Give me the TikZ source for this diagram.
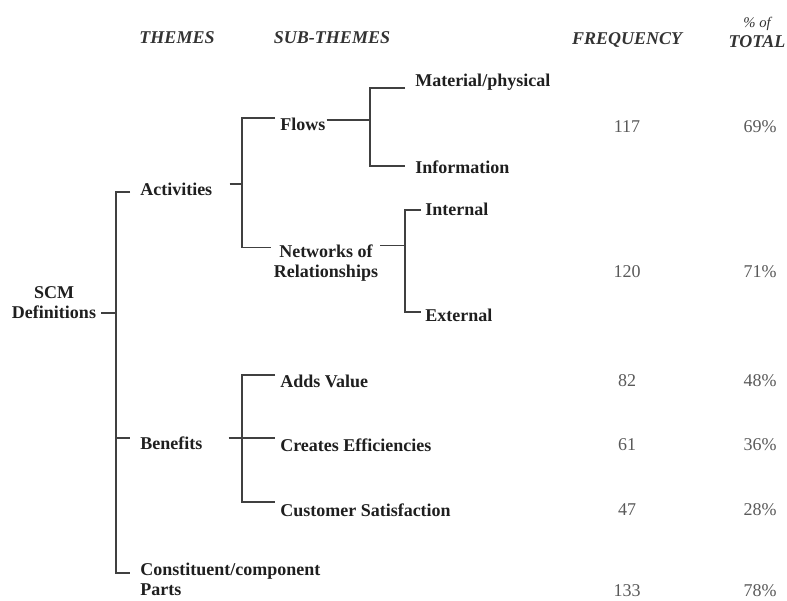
\documentclass[tikz,border=0pt]{standalone}
\usepackage{fontspec}
\setmainfont{Liberation Serif}
\usepackage{tikz}
\usetikzlibrary{positioning,calc}
\newcommand{\figsize}{\fontsize{13.5}{15}\selectfont}

\begin{document}
\begin{tikzpicture}[x=0.75pt, y=-0.75pt,
	lbl/.style={font=\figsize\bfseries, text=black!88, inner sep=0pt},
	hdr/.style={font=\figsize\bfseries\itshape, text=black!80, inner sep=0pt},
	num/.style={font=\figsize, text=black!65, inner sep=0pt},
	tree/.style={draw=black!75, line width=0.9pt}]
	\useasboundingbox (0,0) rectangle (787,600);
			\node[hdr] (hthemes) at (177,38) {THEMES};
			\node[hdr] (hsub) at (332,38) {SUB-THEMES};
			\node[hdr] (hfreq) at (627,40) {FREQUENCY};
			\node[hdr, align=center] (htot) at (757,32) {{\mdseries\fontsize{11}{13}\selectfont\% of}\\TOTAL};
			\node[lbl, align=center] (scm) at (54,303) {SCM\\Definitions};
			\node[lbl, anchor=west] (act) at (140,189) {Activities};
			\node[lbl, anchor=west] (ben) at (140,443) {Benefits};
			\node[lbl, anchor=north west, align=left] (parts) at (140,563) {Constituent/component\\Parts};
			\node[lbl, anchor=west] (flows) at (280,124) {Flows};
			\node[lbl, align=center] (net) at (326,263) {Networks of\\Relationships};
			\node[lbl, anchor=west] (mat) at (415,82) {Material/physical};
			\node[lbl, anchor=west] (info) at (415,167) {Information};
			\node[lbl, anchor=west] (int) at (425,209) {Internal};
			\node[lbl, anchor=west] (ext) at (425,315) {External};
			\node[lbl, anchor=west] (adds) at (280,381) {Adds Value};
			\node[lbl, anchor=west] (eff) at (280,445) {Creates Efficiencies};
			\node[lbl, anchor=west] (cust) at (280,510) {Customer Satisfaction};
			\node[num] (f1) at (627,127) {117};
			\node[num] (f2) at (627,272) {120};
			\node[num] (f3) at (627,381) {82};
			\node[num] (f4) at (627,445) {61};
			\node[num] (f5) at (627,510) {47};
			\node[num] (f6) at (627,591) {133};
			\node[num] (p1) at (760,127) {69\%};
			\node[num] (p2) at (760,272) {71\%};
			\node[num] (p3) at (760,381) {48\%};
			\node[num] (p4) at (760,445) {36\%};
			\node[num] (p5) at (760,510) {28\%};
			\node[num] (p6) at (760,591) {78\%};
			\coordinate (trunk) at (116,0);
			\coordinate (actbar) at (242,0);
			\coordinate (flowbar) at (370,0);
			\coordinate (netbar) at (405,0);
			\coordinate (scmtip) at ($(scm.east)+(5,10)$);
			\coordinate (acttip) at ($(act.west)+(-10,3)$);
			\coordinate (bentip) at ($(ben.west)+(-10,-5)$);
			\coordinate (partstip) at ($(parts.north west)+(-10,10)$);
			\coordinate (actout) at ($(act.east)+(17,-5)$);
			\coordinate (benout) at ($(ben.east)+(26,-5)$);
			\coordinate (flowstip) at ($(flows.west)+(-5,-6)$);
			\coordinate (flowsout) at ($(flows.east)+(1,-4)$);
			\coordinate (nettip) at ($(net.north west)+(-3,3)$);
			\coordinate (netout) at ($(net.north east)+(2,1)$);
			\coordinate (mattip) at ($(mat.west)+(-10,6)$);
			\coordinate (infotip) at ($(info.west)+(-10,-1)$);
			\coordinate (inttip) at ($(int.west)+(-4,1)$);
			\coordinate (exttip) at ($(ext.west)+(-4,-3)$);
			\coordinate (addstip) at ($(adds.west)+(-5,-6)$);
			\coordinate (efftip) at ($(eff.west)+(-5,-7)$);
			\coordinate (custtip) at ($(cust.west)+(-5,-8)$);
			\draw[tree] (scmtip) -- (scmtip -| trunk);
			\draw[tree] (acttip) -- (acttip -| trunk) -- (partstip -| trunk) -- (partstip);
			\draw[tree] (bentip -| trunk) -- (bentip);
			\draw[tree] (actout) -- (actout -| actbar);
			\draw[tree] (flowstip) -- (flowstip -| actbar) -- (nettip -| actbar) -- (nettip);
			\draw[tree] (flowsout) -- (flowsout -| flowbar);
			\draw[tree] (mattip) -- (mattip -| flowbar) -- (infotip -| flowbar) -- (infotip);
			\draw[tree] (netout) -- (netout -| netbar);
			\draw[tree] (inttip) -- (inttip -| netbar) -- (exttip -| netbar) -- (exttip);
			\draw[tree] (benout) -- (efftip);
			\draw[tree] (addstip) -- (addstip -| actbar) -- (custtip -| actbar) -- (custtip);
		\end{tikzpicture}
\end{document}
